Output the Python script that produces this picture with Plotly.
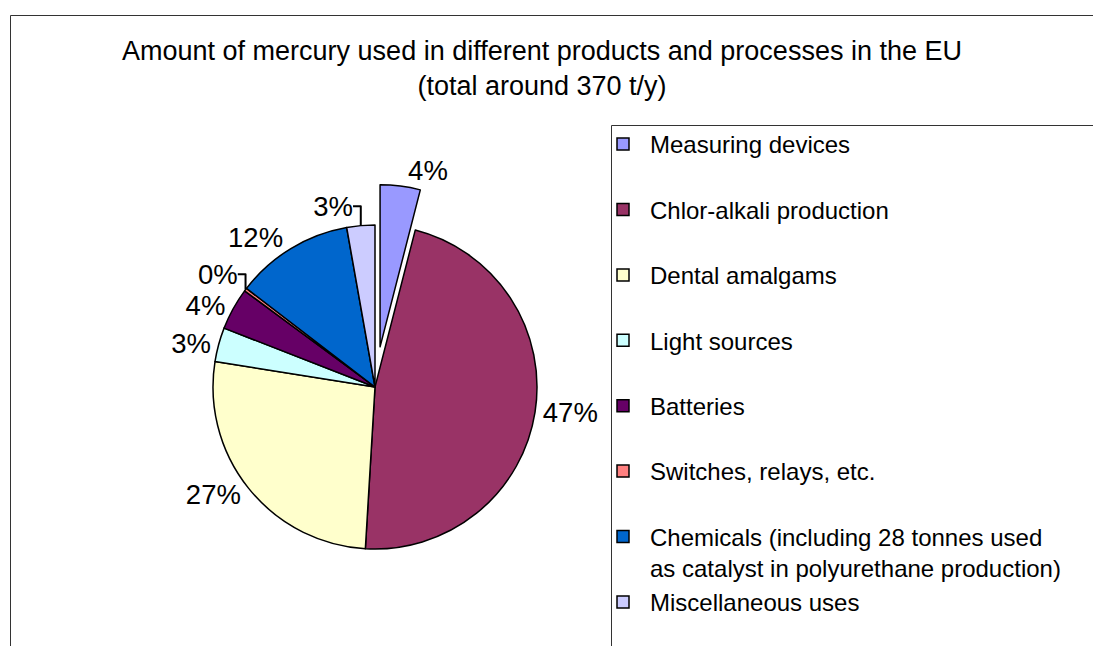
import plotly.graph_objects as go

categories = [
    "Measuring devices",
    "Chlor-alkali production",
    "Dental amalgams",
    "Light sources",
    "Batteries",
    "Switches, relays, etc.",
    "Chemicals (including 28 tonnes used<br>as catalyst in polyurethane production)",
    "Miscellaneous uses",
]
shares = [4.0, 47.0, 26.6, 3.4, 4.2, 0.3, 11.8, 2.8]
colors = ["#9999FF", "#993366", "#FFFFCC", "#CCFFFF", "#660066", "#FF8080", "#0066CC", "#CCCCFF"]
pulls = [0.25, 0, 0, 0, 0, 0, 0, 0]

W, H = 1093, 646
FONT = "Liberation Sans, Arial, sans-serif"

# every legend entry except the last one gets a blank second line for even spacing
legend_labels = [
    c if ("<br>" in c or i == len(categories) - 1) else c + "<br> "
    for i, c in enumerate(categories)
]

fig = go.Figure(go.Pie(
    labels=legend_labels,
    values=shares,
    sort=False,
    direction="clockwise",
    rotation=0,
    pull=pulls,
    marker=dict(colors=colors, line=dict(color="black", width=1.5)),
    texttemplate="%{percent:.0%}",
    textposition="outside",
    textfont=dict(family=FONT, size=27.5, color="black"),
    domain=dict(x=[172.5 / W, 577.5 / W], y=[1 - 589.5 / H, 1 - 184.5 / H]),
    hoverinfo="label+value",
))

fig.update_layout(
    width=W, height=H,
    margin=dict(l=0, r=0, t=0, b=0),
    paper_bgcolor="white",
    plot_bgcolor="white",
    title=dict(
        text="Amount of mercury used in different products and processes in the EU<br>(total around 370 t/y)",
        x=542 / W, xanchor="center",
        y=1 - 60 / H, yanchor="top",
        font=dict(family=FONT, size=27, color="black"),
    ),
    showlegend=True,
    legend=dict(
        x=596 / W, xanchor="left",
        y=1 - 122 / H, yanchor="top",
        font=dict(family=FONT, size=24, color="black"),
        bgcolor="rgba(0,0,0,0)",
        borderwidth=0,
        valign="top",
        itemwidth=44,
    ),
    shapes=[
        dict(type="rect", xref="paper", yref="paper",
             x0=10.5 / W, x1=1.05, y0=-0.05, y1=1 - 15.5 / H,
             line=dict(color="#333333", width=1), fillcolor="rgba(0,0,0,0)", layer="below"),
        dict(type="rect", xref="paper", yref="paper",
             x0=611.5 / W, x1=1.05, y0=-0.05, y1=1 - 125.5 / H,
             line=dict(color="#333333", width=1), fillcolor="rgba(0,0,0,0)", layer="below"),
    ],
)

fig.write_html(
    "out.html",
    config={"displayModeBar": False},
    post_script="document.body.style.margin='0';document.body.style.overflow='hidden';",
)
